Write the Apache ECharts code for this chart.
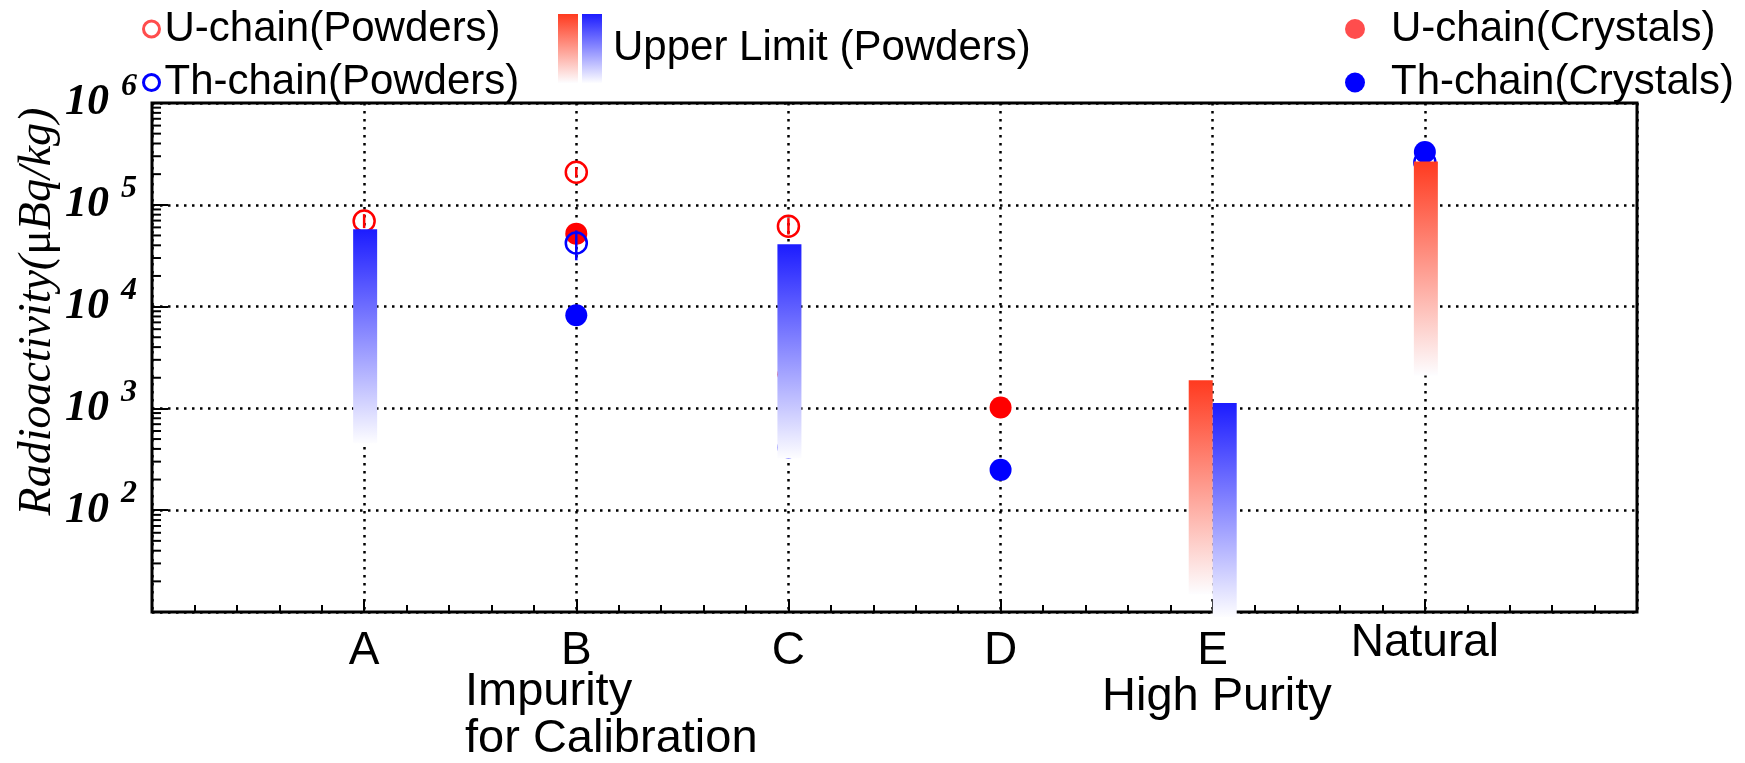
<!DOCTYPE html>
<html>
<head>
<meta charset="utf-8">
<script src="https://cdn.jsdelivr.net/npm/echarts@6/dist/echarts.min.js"></script>
<style>
  html, body { margin: 0; padding: 0; background: #fff; }
  #chart { width: 1745px; height: 763px; }
</style>
</head>
<body>
<div id="chart"></div>
<script>
  // categories sit at x = 1..6 on a 0..7 value axis
  const categories = ['A', 'B', 'C', 'D', 'E', 'Natural']
  const uPowder = [69300, 208600, 61500, null, null, null]
  const uPowderErr = [[59000, 81000], [186000, 234000], [51000, 74000], null, null, null]
  const thPowder = [null, 42200, null, null, null, 262000]
  const thPowderErr = [null, [28500, 56000], null, null, null, null]
  const uCrystal = [null, 52100, 2160, 1020, null, null]
  const thCrystal = [null, 8220, 414, 249, null, 330000]
  const uLimit = [null, null, null, null, 1890, 267000]
  const thLimit = [57400, null, 40900, null, 1130, null]

  const SANS = '"Liberation Sans", Arial, sans-serif'
  const SERIF = '"Liberation Serif", "Times New Roman", serif'
  const RED = '#ff0000'
  const BLUE = '#0000ff'
  const RED_TOP = '#ff3a1f'
  const BLUE_TOP = '#1c1cff'

  function toPoints(arr) {
    return arr.map((v, i) => v == null ? null : [i + 1, v]).filter(Boolean)
  }
  function toErr(arr) {
    return arr.map((e, i) => e ? [i + 1, e[0], e[1]] : null).filter(Boolean)
  }
  function fade(color) {
    return new echarts.graphic.LinearGradient(0, 0, 0, 1, [
      { offset: 0, color: color },
      { offset: 1, color: '#fdfdff' }
    ])
  }

  // log minor ticks on the left axis (2..9 x each decade)
  const minorY = []
  for (let e = 1; e < 6; e++) {
    for (let m = 2; m < 10; m++) minorY.push([0, m * Math.pow(10, e)])
  }

  function renderErr(color) {
    return function (params, api) {
      const lo = api.coord([api.value(0), api.value(1)])
      const hi = api.coord([api.value(0), api.value(2)])
      return {
        type: 'line',
        shape: { x1: lo[0], y1: lo[1], x2: hi[0], y2: hi[1] },
        style: { stroke: color, lineWidth: 2.5 }
      }
    }
  }

  function renderLimit(color, side) {
    return function (params, api) {
      const x = api.value(0)
      const p = api.coord([x, api.value(1)])
      const both = uLimit[x - 1] != null && thLimit[x - 1] != null
      const left = both ? (side < 0 ? p[0] - 24 : p[0]) : p[0] - 11
      return {
        type: 'rect',
        shape: { x: left, y: p[1], width: 24, height: 214 },
        style: { fill: fade(color) }
      }
    }
  }

  function renderMinor(params, api) {
    const p = api.coord([api.value(0), api.value(1)])
    return {
      type: 'line',
      shape: { x1: p[0], y1: p[1], x2: p[0] + 9, y2: p[1] },
      style: { stroke: '#000', lineWidth: 2 }
    }
  }

  const chart = echarts.init(document.getElementById('chart'), null, { renderer: 'canvas' })

  chart.setOption({
    backgroundColor: '#fff',
    animation: false,
    grid: {
      left: 152,
      right: 108,
      top: 103,
      bottom: 151,
      outerBoundsMode: 'none',
      containLabel: false,
      show: true,
      borderColor: '#000',
      borderWidth: 3,
      backgroundColor: 'transparent'
    },
    legend: [
      {
        left: 137,
        top: 2,
        orient: 'vertical',
        selectedMode: false,
        itemWidth: 16,
        itemHeight: 16,
        itemGap: 9.5,
        textStyle: { fontSize: 42, lineHeight: 44, fontFamily: SANS, color: '#000' },
        data: [
          { name: 'U-chain(Powders)', icon: 'circle', itemStyle: { color: '#fff', borderColor: '#ff4d4d', borderWidth: 3 } },
          { name: 'Th-chain(Powders)', icon: 'circle', itemStyle: { color: '#fff', borderColor: BLUE, borderWidth: 3 } }
        ]
      },
      {
        left: 553,
        top: 9,
        orient: 'horizontal',
        selectedMode: false,
        itemWidth: 20,
        itemHeight: 69,
        itemGap: 4,
        textStyle: { fontSize: 42, fontFamily: SANS, color: '#000', padding: [15, 0, 0, 6] },
        formatter: function (name) {
          return name === 'Th Upper Limit (Powders)' ? 'Upper Limit (Powders)' : ''
        },
        data: [
          { name: 'U Upper Limit (Powders)', icon: 'rect', itemStyle: { color: fade(RED_TOP), borderWidth: 0 } },
          { name: 'Th Upper Limit (Powders)', icon: 'rect', itemStyle: { color: fade(BLUE_TOP), borderWidth: 0 } }
        ]
      },
      {
        left: 1340,
        top: 2,
        orient: 'vertical',
        selectedMode: false,
        itemWidth: 20,
        itemHeight: 20,
        itemGap: 9.5,
        textStyle: { fontSize: 42, lineHeight: 44, fontFamily: SANS, color: '#000', padding: [0, 0, 0, 21] },
        data: [
          { name: 'U-chain(Crystals)', icon: 'circle', itemStyle: { color: '#ff4d4d' } },
          { name: 'Th-chain(Crystals)', icon: 'circle', itemStyle: { color: BLUE } }
        ]
      }
    ],
    xAxis: {
      type: 'value',
      min: 0,
      max: 7,
      interval: 1,
      axisLine: { show: false },
      axisTick: { show: true, inside: true, length: 13, lineStyle: { color: '#000', width: 2 } },
      minorTick: { show: true, splitNumber: 5, length: 7, lineStyle: { color: '#000', width: 2 } },
      splitLine: { show: true, lineStyle: { color: '#000', width: 2.5, type: [2.5, 5.5] } },
      axisLabel: {
        margin: 16,
        fontSize: 46,
        lineHeight: 46,
        fontFamily: SANS,
        color: '#000',
        formatter: function (v) {
          if (v < 1 || v > 6) return ''
          return v === 6 ? '{n|' + categories[v - 1] + '}' : categories[v - 1]
        },
        rich: {
          n: { fontSize: 46, lineHeight: 30, fontFamily: SANS, color: '#000' }
        }
      }
    },
    yAxis: {
      type: 'log',
      logBase: 10,
      min: 10,
      max: 1000000,
      splitNumber: 5,
      name: 'Radioactivity({u|\u03bc}Bq/kg)',
      nameLocation: 'middle',
      nameRotate: 90,
      nameGap: 91,
      nameMoveOverlap: false,
      nameTextStyle: {
        fontSize: 46,
        fontStyle: 'italic',
        fontFamily: SERIF,
        color: '#000',
        padding: [0, 0, 0, 92],
        rich: {
          u: { fontSize: 46, fontStyle: 'normal', fontFamily: SERIF, color: '#000' }
        }
      },
      axisLine: { show: false },
      axisTick: { show: true, inside: true, length: 16, lineStyle: { color: '#000', width: 2 } },
      splitLine: { show: true, lineStyle: { color: '#000', width: 2.5, type: [2.5, 5.5] } },
      axisLabel: {
        margin: 15,
        formatter: function (v) {
          const e = Math.round(Math.log10(v))
          if (e <= 1) return ''
          return '{b|10}{s|' + e + '}'
        },
        rich: {
          b: { fontSize: 44, lineHeight: 64, fontWeight: 'bold', fontStyle: 'italic', fontFamily: SERIF, color: '#000' },
          s: { fontSize: 32, lineHeight: 32, verticalAlign: 'top', fontWeight: 'bold', fontStyle: 'italic', fontFamily: SERIF, color: '#000', padding: [0, 0, 0, 12] }
        }
      }
    },
    graphic: [
      {
        type: 'text',
        left: 465,
        top: 669,
        style: { text: 'Impurity\nfor Calibration', fontSize: 47, lineHeight: 47, fontFamily: SANS, fill: '#000' }
      },
      {
        type: 'text',
        left: 1102,
        top: 674,
        style: { text: 'High Purity', fontSize: 47, lineHeight: 47, fontFamily: SANS, fill: '#000' }
      }
    ],
    series: [
      {
        name: 'minor ticks',
        type: 'custom',
        silent: true,
        clip: false,
        z: 4,
        renderItem: renderMinor,
        encode: { x: 0, y: 1 },
        data: minorY
      },
      {
        name: 'U-chain(Crystals)',
        type: 'scatter',
        symbol: 'circle',
        symbolSize: 22,
        z: 2,
        itemStyle: { color: RED, opacity: 1 },
        data: toPoints(uCrystal)
      },
      {
        name: 'Th-chain(Crystals)',
        type: 'scatter',
        symbol: 'circle',
        symbolSize: 22,
        z: 2,
        itemStyle: { color: BLUE, opacity: 1 },
        data: toPoints(thCrystal)
      },
      {
        name: 'U-chain(Powders)',
        type: 'scatter',
        symbol: 'circle',
        symbolSize: 21,
        z: 3,
        itemStyle: { color: 'transparent', borderColor: RED, borderWidth: 2.5, opacity: 1 },
        data: toPoints(uPowder)
      },
      {
        name: 'U-chain(Powders) err',
        type: 'custom',
        z: 3,
        renderItem: renderErr(RED),
        encode: { x: 0, y: [1, 2] },
        data: toErr(uPowderErr)
      },
      {
        name: 'Th-chain(Powders)',
        type: 'scatter',
        symbol: 'circle',
        symbolSize: 21,
        z: 3,
        itemStyle: { color: 'transparent', borderColor: BLUE, borderWidth: 2.5, opacity: 1 },
        data: toPoints(thPowder)
      },
      {
        name: 'Th-chain(Powders) err',
        type: 'custom',
        z: 3,
        renderItem: renderErr(BLUE),
        encode: { x: 0, y: [1, 2] },
        data: toErr(thPowderErr)
      },
      {
        name: 'U Upper Limit (Powders)',
        type: 'custom',
        clip: false,
        z: 6,
        itemStyle: { color: fade(RED_TOP) },
        renderItem: renderLimit(RED_TOP, -1),
        encode: { x: 0, y: 1 },
        data: toPoints(uLimit)
      },
      {
        name: 'Th Upper Limit (Powders)',
        type: 'custom',
        clip: false,
        z: 6,
        itemStyle: { color: fade(BLUE_TOP) },
        renderItem: renderLimit(BLUE_TOP, 1),
        encode: { x: 0, y: 1 },
        data: toPoints(thLimit)
      }
    ]
  })
</script>
</body>
</html>
